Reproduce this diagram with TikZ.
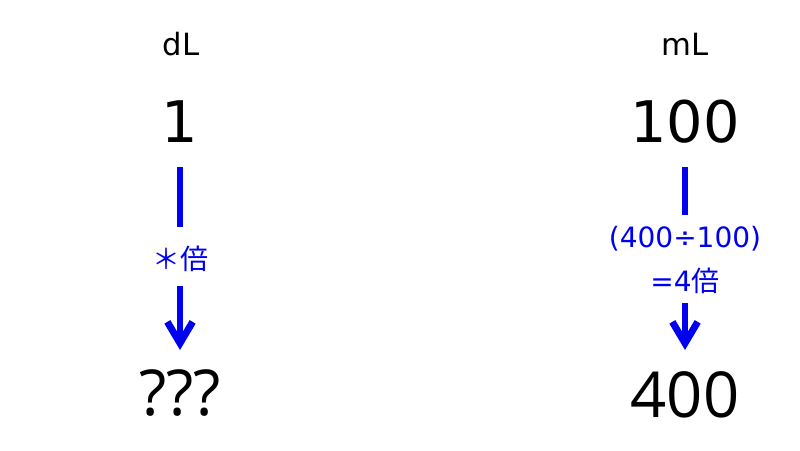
\documentclass[tikz,border=0pt]{standalone}
\usepackage{fontspec}
\setmainfont{DejaVu Sans}
\newfontfamily\jpfont{Noto Sans CJK JP}
\newfontfamily\lowfont{Open Sans}
\usetikzlibrary{arrows.meta}
\definecolor{ratioblue}{RGB}{0,0,240}
\tikzset{
    unit/.style = {inner sep=0pt,text=black,font=\fontsize{23}{27}\selectfont},
    amount/.style = {inner sep=0pt,text=black,font=\fontsize{43}{50}\selectfont},
    result/.style = {inner sep=0pt,text=black,font=\lowfont\fontsize{47.5}{54}\selectfont},
    ratio/.style = {inner sep=0pt,text=ratioblue,font=\fontsize{21}{25}\selectfont},
    link/.style = {draw=ratioblue,line width=5.2pt},
    step arrow/.style = {link,-{Straight Barb[length=16pt,width=19pt]}}
}
\begin{document}
\begin{tikzpicture}[x=0.75pt,y=-0.75pt]
    \useasboundingbox (0,0) rectangle (800,450);
    % left column
    \node[unit]   (dl)   at (181,44)  {dL};
    \node[amount] (one)  at (180,122) {1};
    \node[ratio]  (lefttimes) at (180,259) {{\jpfont ＊倍}};
    \node[result] (unknown)   at (180,393) {???};
    % right column
    \node[unit]   (ml)   at (685,44)  {mL};
    \node[amount] (hundred)   at (685,122) {100};
    \node[ratio]  (division)  at (685,239) {(400÷100)};
    \node[ratio]  (fourtimes) at (685,281) {=4{\jpfont 倍}};
    \node[result] (fourhundred) at (685,395) {400};

    \draw[link, shorten <=33.75pt, shorten >=24pt] (one.center) -- (lefttimes.center);
    \draw[link, shorten <=33.75pt, shorten >=18pt] (hundred.center) -- (division.center);
    \draw[step arrow, shorten <=20.25pt, shorten >=32.25pt] (lefttimes.center) -- (unknown.center);
    \draw[step arrow, shorten <=16.5pt, shorten >=33.75pt] (fourtimes.center) -- (fourhundred.center);
\end{tikzpicture}
\end{document}
